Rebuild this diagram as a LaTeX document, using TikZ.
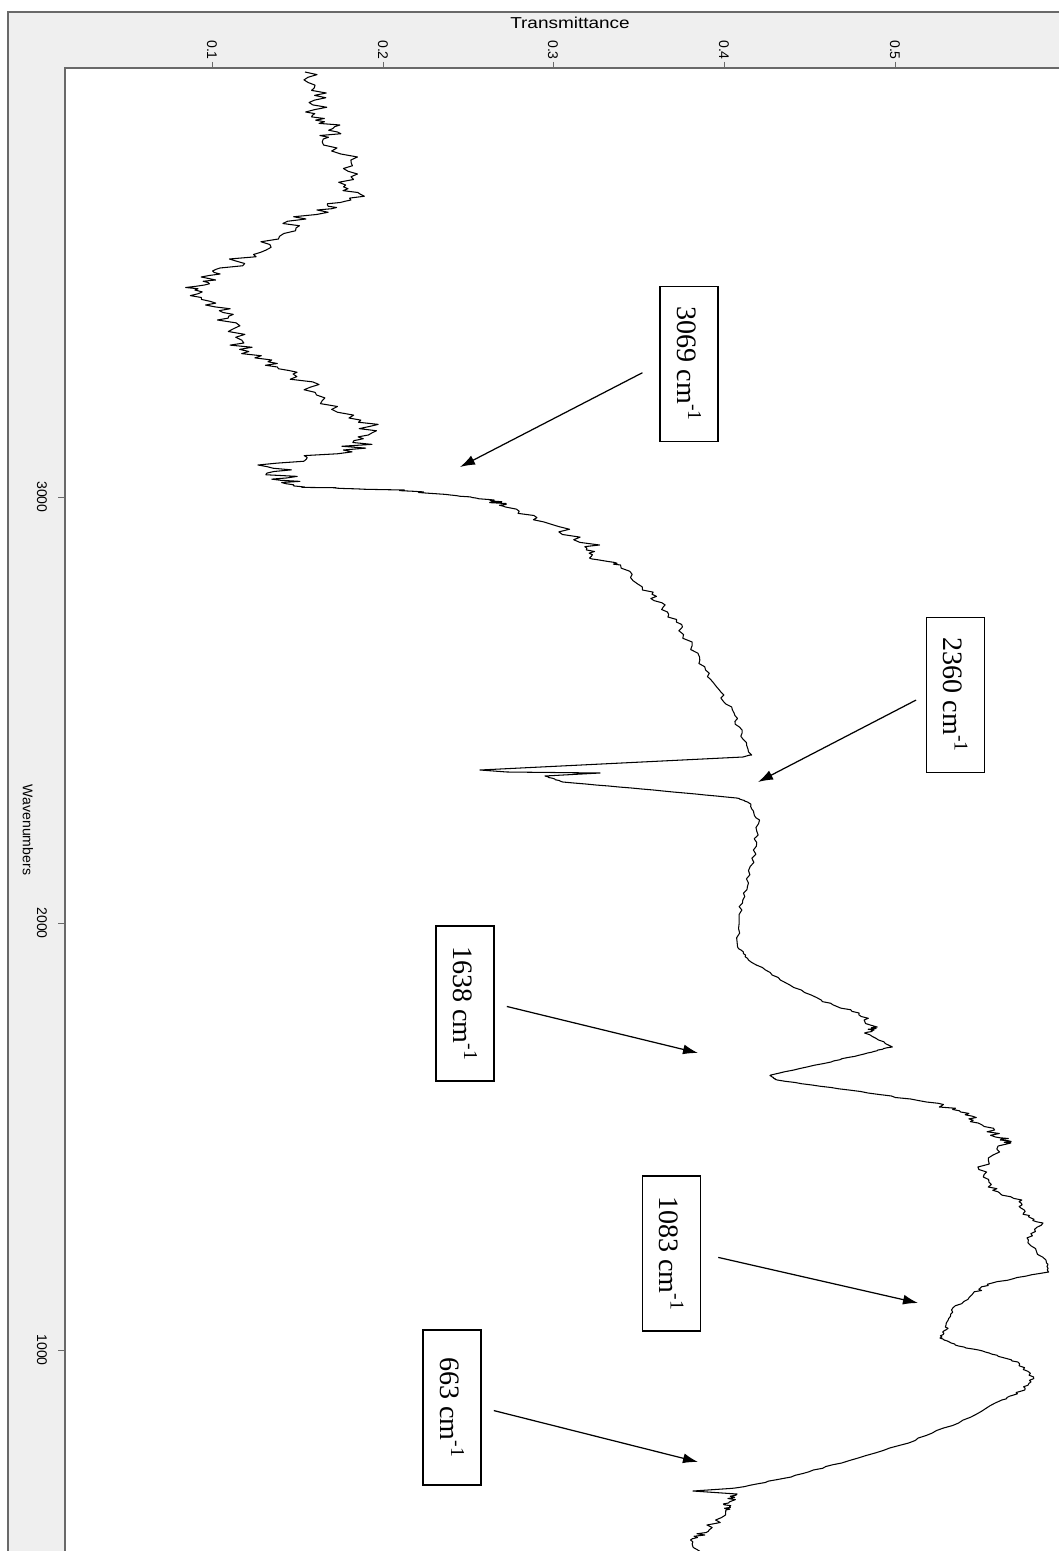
\documentclass[tikz,border=0pt]{standalone}
\usepackage{fontspec}
\setmainfont{Liberation Serif}
\newfontfamily\axisfont{Liberation Sans}
\usetikzlibrary{arrows.meta}
\usepackage{xcolor}
\definecolor{FrameGray}{RGB}{105,105,105}
\definecolor{BandGray}{RGB}{239,239,239}

\begin{document}
\begin{tikzpicture}[
x=0.02cm,y=-0.02cm,
peak/.style={rectangle,draw,line width=0.8pt,rotate=-90,minimum width=3.1cm,
minimum height=1.16cm,inner sep=0pt,font=\fontsize{16}{18}\selectfont},
arrow/.style={-{Latex[length=3mm,width=2mm]},line width=0.7pt},
tick/.style={font=\axisfont\fontsize{8}{9}\selectfont,rotate=-90,inner sep=1pt},
spectrum/.style={line width=0.6pt,line join=round}
]
\useasboundingbox (0,0) rectangle (1059,1551);
% frame and axes
\fill[BandGray] (8,12) rectangle (1059,1551);
\fill[white] (65,68) rectangle (1059,1551);
\draw[FrameGray,line width=1pt] (1059,12) -- (8,12) -- (8,1551);
\draw[FrameGray,line width=1pt] (1059,68) -- (65,68) -- (65,1551);
\node[font=\axisfont\fontsize{9}{10}\selectfont,xscale=1.2] (ttl) at (570,23) {Transmittance};
\node[tick] (wn) at (28,830) {Wavenumbers};
\foreach \t/\x in {0.1/212,0.2/383,0.3/553,0.4/724,0.5/895} {
  \draw[FrameGray] (\x,62) -- (\x,68);
  \node[tick] at (\x,50) {\t};
}
\foreach \w/\y in {3000/497,2000/923,1000/1350} {
  \draw[FrameGray] (58,\y) -- (65,\y);
  \node[tick] at (42,\y) {\w};
}
% spectrum
\begin{scope}
\clip (65,68) rectangle (1059,1551);
\pgfmathsetseed{4}
\draw[spectrum] (305,72) foreach \y/\x/\ns [remember=\x as \px (initially 305),remember=\y as \py (initially 72)] in {
93/323/12,112/318/14,125/335/14,139/330/14,163/352/12,185/345/16,200/355/12,210/318/16,
228/288/14,250/258/14,268/228/14,280/205/12,290/192/10,305/215/12,320/222/14,343/238/14,
360/262/14,374/290/16,395/322/16,418/360/16,435/370/18,450/345/18,465/270/18,478/285/16,
487/300/16,490/400/12,495/450/8,500/490/6,507/510/8,524/550/10,545/590/10,558/593/6,
565/620/5,590/647/5,607/663/5,627/680/4,657/697/4,683/713/4,707/730/3,730/740/3,
755/750/2,757/743/0,770/480/0,772/507/0,773/600/0,776/545/0,782/563/1,790/653/1,
798/737/1,802/748/1,820/758/2,850/755/2,883/747/2,910/740/2,947/738/2,960/750/2,
980/780/2,1000/820/2,1013/857/3,1027/875/5,1033/867/5,1047/890/3,1053/867/2,1062/830/2,
1075/770/1,1080/777/1,1090/847/2,1102/930/4,1112/960/7,1123/980/8,1137/1000/8,1143/1007/7,
1167/980/6,1187/990/6,1200/1017/5,1213/1023/4,1223/1040/3,1240/1027/3,1263/1047/2,
1272/1048/1,1283/990/3,1293/975/3,1310/952/3,1327/947/2,1337/940/2,1345/955/2,1353/990/2,
1362/1017/2,1377/1033/2,1390/1023/2,1400/1003/2,1423/957/2,1443/907/2,1463/840/2,
1477/790/2,1488/737/2,1491/693/0,1494/737/0,1503/727/5,1510/730/5,1530/707/6,1540/693/6,
1555/700/5}
{ foreach \k in {1,...,8} { -- ({\px+(\x-\px)*\k/8+\ns*rand},{\py+(\y-\py)*\k/8}) } };
\end{scope}
% peak labels
\node[peak] (l3069) at (689,364) {3069 cm\textsuperscript{-1}};
\node[peak] (l2360) at (955.5,695) {2360 cm\textsuperscript{-1}};
\node[peak] (l1638) at (465,1003.5) {1638 cm\textsuperscript{-1}};
\node[peak] (l1083) at (671.5,1253.5) {1083 cm\textsuperscript{-1}};
\node[peak] (l663) at (452,1407.5) {663 cm\textsuperscript{-1}};
\coordinate (p3069) at (460,467);
\coordinate (p2360) at (758,782);
\coordinate (p1638) at (698,1053);
\coordinate (p1083) at (918,1303);
\coordinate (p663) at (698,1462);
\draw[arrow,shorten <=0.38cm] (l3069.south) -- (p3069);
\draw[arrow,shorten <=0.22cm] (l2360.south) -- (p2360);
\draw[arrow,shorten <=0.25cm] (l1638.north) -- (p1638);
\draw[arrow,shorten <=0.35cm] (l1083.north) -- (p1083);
\draw[arrow,shorten <=0.25cm] (l663.north) -- (p663);
\end{tikzpicture}
\end{document}
